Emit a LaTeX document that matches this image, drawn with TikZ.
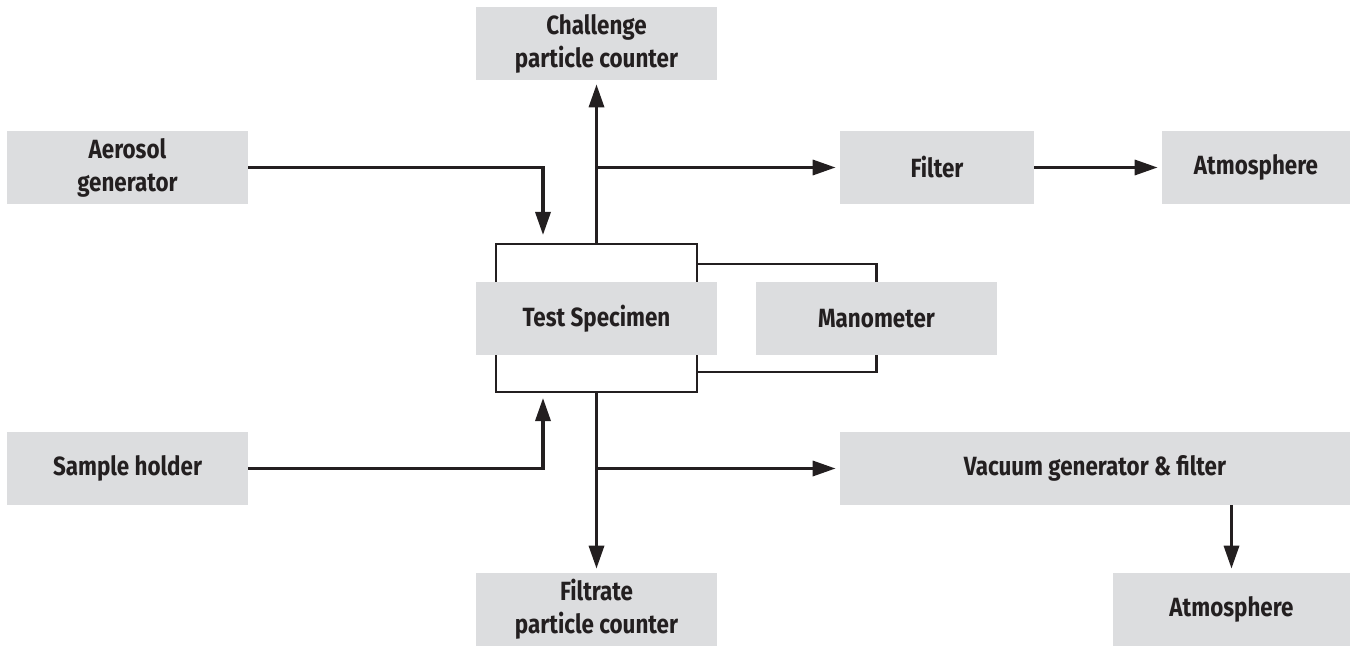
\documentclass[tikz,border=0pt]{standalone}
\usepackage{fontspec}
\setmainfont{Fira Sans}[FakeStretch=0.85]
\usetikzlibrary{positioning, arrows.meta, calc}
\definecolor{boxgrey}{HTML}{DCDDDF}
\definecolor{ink}{HTML}{231F20}

\begin{document}
\begin{tikzpicture}[
    unit/.style={rectangle, fill=boxgrey, inner sep=0pt, minimum width=4.82cm, minimum height=1.46cm, align=center, text=ink, font=\fontsize{15}{18.8}\selectfont\bfseries},
    housing/.style={rectangle, draw=ink, line width=1.2pt, inner sep=0pt, minimum width=4.02cm, minimum height=2.96cm},
    flow/.style={draw=ink, line width=1.9pt, -{Triangle[length=0.46cm, width=0.3cm]}},
    pipe/.style={draw=ink, line width=1.2pt}
]
\useasboundingbox (0,0) rectangle (27.12,12.92);

% specimen housing behind the grey box
\node[housing] (cell) at (11.93, 6.56) {};

% --- Boxes ---
\node[unit] (challenge) at (11.93, 12.05) {Challenge\\particle counter};
\node[unit] (aerosol) at (2.55, 9.57) {Aerosol\\generator};
\node[unit, minimum width=3.88cm] (filter) at (18.74, 9.57) {Filter};
\node[unit, minimum width=3.76cm] (atmtop) at (25.12, 9.57) {Atmosphere};
\node[unit] (specimen) at (11.93, 6.55) {Test Specimen};
\node[unit] (manometer) at (17.53, 6.55) {Manometer};
\node[unit] (sample) at (2.55, 3.55) {Sample holder};
\node[unit, minimum width=10.2cm] (vacuum) at (21.9, 3.55) {Vacuum generator \& filter};
\node[unit] (filtrate) at (11.93, 0.73) {Filtrate\\particle counter};
\node[unit, minimum width=4.74cm] (atmbot) at (24.63, 0.73) {Atmosphere};

% arrow tips at the housing
\coordinate (inlet) at (10.86, 8.22);
\coordinate (holder) at (10.86, 4.96);

% --- Manometer taps ---
\draw[pipe] (cell.east |- 0,7.64) -| (manometer.north);
\draw[pipe] (cell.east |- 0,5.48) -| (manometer.south);

% --- Upstream ---
\draw[flow] (aerosol.east) -| (inlet);
\draw[flow, shorten >=0.08cm] (cell.north) -- (challenge.south);
\draw[flow, shorten >=0.08cm] (cell.north |- filter.west) -- (filter.west);
\draw[flow, shorten >=0.08cm] (filter.east) -- (atmtop.west);

% --- Downstream ---
\draw[flow] (sample.east) -| (holder);
\draw[flow, shorten >=0.08cm] (cell.south) -- (filtrate.north);
\draw[flow, shorten >=0.08cm] (cell.south |- vacuum.west) -- (vacuum.west);
\draw[flow, shorten >=0.08cm] (atmbot.north |- vacuum.south) -- (atmbot.north);

\end{tikzpicture}
\end{document}
